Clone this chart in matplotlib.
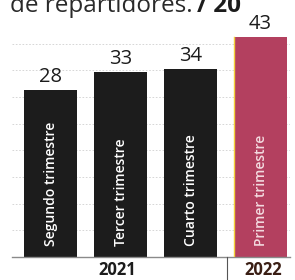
import matplotlib.pyplot as plt
import numpy as np

# datos
trimestres = ['Segundo trimestre', 'Tercer trimestre', 'Cuarto trimestre', 'Primer trimestre']
valores = [28, 33, 34, 43]
anios = ['2021', '2022']
colores = ['#1c1c1c', '#1c1c1c', '#1c1c1c', '#b3405f']

plt.rcParams['font.family'] = ['Open Sans', 'DejaVu Sans']

fig = plt.figure(figsize=(2.95, 2.8), dpi=100)
W, H = 295, 280
ax = fig.add_axes([12 / W, (H - 257) / H, 278 / W, 237 / H])

base = -19.3
x = np.arange(len(valores))
ax.set_xlim(-0.55, 3.42)
ax.set_ylim(base, 47.8)

# rejilla punteada
for k in range(1, 9):
    ax.axhline(base + 7.55 * k, color='#d0d0d0', lw=0.6, ls=(0, (2, 2)), zorder=0)

bars = ax.bar(x, np.array(valores) - base, bottom=base, width=0.76,
              color=colores, zorder=2)

# borde amarillo en la barra 2022
b = bars[3]
ax.plot([b.get_x(), b.get_x()], [base, base + b.get_height()],
        color='#f2d23c', lw=1.0, zorder=3)

for xi, v, t in zip(x, valores, trimestres):
    ax.annotate(str(v), (xi, v), xytext=(0, 2), textcoords='offset points',
                ha='center', va='bottom', fontsize=14.5, color='#1c1c1c')
    ax.text(xi, base + 3.0, t, rotation=90, ha='center', va='bottom',
            fontsize=10, fontweight='semibold',
            color='#ffffff' if xi < 3 else '#f3dbe0', zorder=4)

for s in ['top', 'right', 'left']:
    ax.spines[s].set_visible(False)
ax.spines['bottom'].set_color('#8a8a8a')
ax.spines['bottom'].set_linewidth(1.0)
ax.set_xticks([])
ax.set_yticks([])

# etiquetas de año
fig.text(117 / W, 1 - 270 / H, anios[0], ha='center', va='center',
         fontsize=12, fontweight='bold', color='#1c1c1c')
fig.text(263 / W, 1 - 270 / H, anios[1], ha='center', va='center',
         fontsize=12, fontweight='bold', color='#3a1e14')
fig.add_artist(plt.Line2D([227 / W, 227 / W], [0, 23 / H], color='#555555', lw=0.8))

# título (cortado arriba)
t1 = fig.text(10 / W, 1 - 12 / H, 'de repartidores.', ha='left', va='baseline',
              fontsize=17.5, color='#2a2a2a')
fig.canvas.draw()
bb = t1.get_window_extent()
fig.text((bb.x1 + 4) / W, 1 - 12 / H, '/ 20', ha='left', va='baseline',
         fontsize=17.5, fontweight='bold', color='#1c1c1c')

fig.savefig('out.png', dpi=100)
